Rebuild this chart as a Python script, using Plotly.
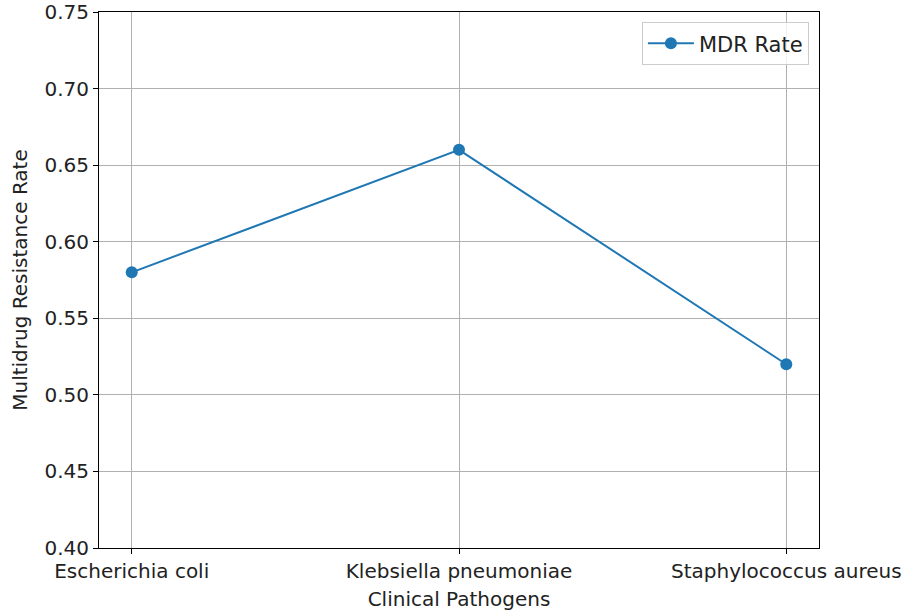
import plotly.graph_objects as go

categories = ["Escherichia coli", "Klebsiella pneumoniae", "Staphylococcus aureus"]
mdr_rate = [0.58, 0.66, 0.52]
y_ticks = [0.40, 0.45, 0.50, 0.55, 0.60, 0.65, 0.70, 0.75]

fig = go.Figure()
fig.add_trace(go.Scatter(
    x=list(range(len(categories))), y=mdr_rate, mode="lines+markers",
    name="MDR Rate",
    line=dict(color="#1f77b4", width=2),
    marker=dict(color="#1f77b4", size=12),
))

FS = 20

axis_common = dict(
    showline=True, linecolor="black", linewidth=1, mirror=True,
    ticks="outside", ticklen=5, tickcolor="black",
    showgrid=True, gridcolor="#b0b0b0", gridwidth=1,
    zeroline=False, ticklabeloverflow="allow",
    tickfont=dict(family="DejaVu Sans", size=FS, color="#222"),
)

fig.update_layout(
    width=904, height=613,
    margin=dict(l=99, r=85, t=12, b=65, autoexpand=False),
    paper_bgcolor="white", plot_bgcolor="white",
    font=dict(family="DejaVu Sans", size=FS, color="#222"),
    xaxis=dict(
        range=[-0.1, 2.1],
        tickmode="array", tickvals=list(range(len(categories))), ticktext=categories,
        title=dict(text="Clinical Pathogens", standoff=9, font=dict(size=FS)),
        **axis_common,
    ),
    yaxis=dict(
        range=[0.40, 0.75],
        tickmode="array", tickvals=y_ticks, ticktext=[f"{v:.2f}" for v in y_ticks],
        title=dict(text="Multidrug Resistance Rate", standoff=11, font=dict(size=FS)),
        **axis_common,
    ),
    legend=dict(
        x=0.986, y=0.981, xanchor="right", yanchor="top",
        bordercolor="#cccccc", borderwidth=1, bgcolor="rgba(255,255,255,0.8)",
        font=dict(size=21), itemwidth=46,
    ),
    showlegend=True,
)

fig.write_html("out.html", config={"displayModeBar": False},
               post_script="document.body.style.margin='0';")
